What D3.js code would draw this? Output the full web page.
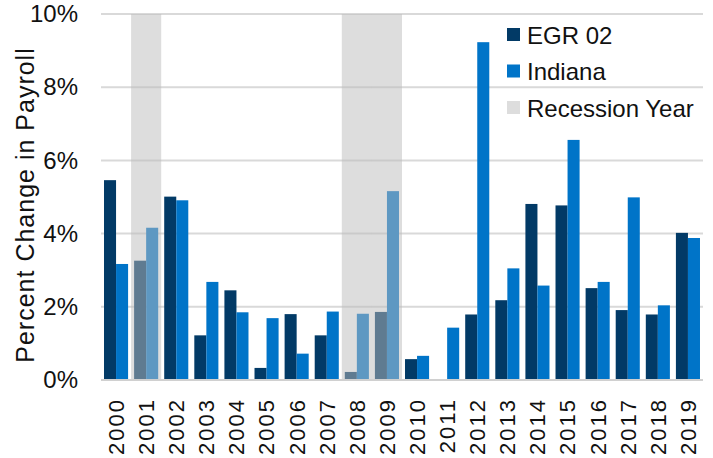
<!DOCTYPE html>
<html>
<head>
<meta charset="utf-8">
<script src="https://cdn.jsdelivr.net/npm/d3@7"></script>
<style>
  body { margin: 0; background: #fff; }
  text { font-family: "Liberation Sans", Arial, sans-serif; fill: #111; }
</style>
</head>
<body>
<script>
// data
const years = ['2000','2001','2002','2003','2004','2005','2006','2007','2008','2009',
               '2010','2011','2012','2013','2014','2015','2016','2017','2018','2019'];
const egr02 = [5.46, 3.26, 5.01, 1.22, 2.45, 0.33, 1.80, 1.22, 0.22, 1.86,
               0.57, 0, 1.79, 2.18, 4.81, 4.77, 2.51, 1.91, 1.79, 4.02];
const indiana = [3.17, 4.16, 4.91, 2.68, 1.85, 1.69, 0.72, 1.87, 1.81, 5.16,
                 0.66, 1.43, 9.23, 3.05, 2.58, 6.56, 2.68, 4.99, 2.04, 3.88];
const recessionYears = ['2001', '2008', '2009'];
const series = ['EGR 02', 'Indiana'];
const yTicks = [0, 2, 4, 6, 8, 10];

const width = 713, height = 458;
const plot = {left: 101, right: 703, top: 14, bottom: 380};
const colors = {'EGR 02': '#023a66', 'Indiana': '#0074c8'};

const svg = d3.select('body').append('svg')
    .attr('width', width)
    .attr('height', height);

const x = d3.scaleBand()
    .domain(years)
    .range([plot.left, plot.right])
    .padding(0);

const x1 = d3.scaleBand()
    .domain(series)
    .range([0, x.bandwidth()])
    .paddingInner(0)
    .paddingOuter(0.25);

const y = d3.scaleLinear()
    .domain([0, 10])
    .range([plot.bottom, plot.top]);

// gridlines
svg.append('g')
    .selectAll('line')
    .data(yTicks.filter(d => d > 0))
    .join('line')
        .attr('x1', plot.left)
        .attr('x2', plot.right)
        .attr('y1', d => y(d))
        .attr('y2', d => y(d))
        .attr('stroke', '#d9d9d9')
        .attr('stroke-width', 2);

// bars
const rows = years.map((yr, i) => ({year: yr, values: [
    {key: 'EGR 02', value: egr02[i]},
    {key: 'Indiana', value: indiana[i]}
]}));

const groups = svg.append('g')
    .selectAll('g')
    .data(rows)
    .join('g')
        .attr('transform', d => `translate(${x(d.year)},0)`);

groups.selectAll('rect')
    .data(d => d.values.filter(v => v.value > 0))
    .join('rect')
        .attr('x', d => x1(d.key))
        .attr('y', d => y(d.value))
        .attr('width', x1.bandwidth())
        .attr('height', d => y(0) - y(d.value))
        .attr('fill', d => colors[d.key]);

// recession shading drawn over the bars
svg.append('g')
    .selectAll('rect')
    .data(recessionYears)
    .join('rect')
        .attr('x', d => x(d))
        .attr('y', y(10))
        .attr('width', x.bandwidth())
        .attr('height', y(0) - y(10))
        .attr('fill', '#bcbcbc')
        .attr('opacity', 0.5);

// baseline
svg.append('line')
    .attr('x1', plot.left)
    .attr('x2', plot.right)
    .attr('y1', y(0))
    .attr('y2', y(0))
    .attr('stroke', '#d0d0d0')
    .attr('stroke-width', 2);

// y axis
const yAxis = d3.axisLeft(y)
    .tickValues(yTicks)
    .tickFormat(d => d + '%')
    .tickSize(0)
    .tickPadding(0);

svg.append('g')
    .attr('class', 'y axis')
    .attr('transform', 'translate(78,0)')
    .call(yAxis)
    .call(g => g.select('.domain').remove())
    .selectAll('text')
        .style('font-size', '24px')
        .attr('fill', '#111');

svg.append('text')
    .attr('transform', `translate(34,${(plot.top + plot.bottom) / 2 + 8}) rotate(-90)`)
    .attr('text-anchor', 'middle')
    .style('font-size', '25px')
    .style('letter-spacing', '1px')
    .text('Percent Change in Payroll');

// x axis
const xAxis = d3.axisBottom(x)
    .tickSize(0)
    .tickPadding(0);

svg.append('g')
    .attr('class', 'x axis')
    .attr('transform', `translate(0,398)`)
    .call(xAxis)
    .call(g => g.select('.domain').remove())
    .selectAll('text')
        .attr('transform', 'rotate(-90)')
        .attr('text-anchor', 'end')
        .attr('x', 0)
        .attr('y', 0)
        .attr('dy', '0.36em')
        .attr('fill', '#111')
        .style('font-size', '22px')
        .style('letter-spacing', '2px');

// legend
const legendItems = [
    {label: 'EGR 02', color: colors['EGR 02']},
    {label: 'Indiana', color: colors['Indiana']},
    {label: 'Recession Year', color: '#dddddd'}
];

const legend = svg.append('g')
    .attr('transform', 'translate(507,28)')
    .selectAll('g')
    .data(legendItems)
    .join('g')
        .attr('transform', (d, i) => `translate(0,${i * 36.5})`);

legend.append('rect')
    .attr('width', 13)
    .attr('height', 13)
    .attr('fill', d => d.color);

legend.append('text')
    .attr('x', 20)
    .attr('y', 15.5)
    .style('font-size', '24px')
    .text(d => d.label);
</script>
</body>
</html>
